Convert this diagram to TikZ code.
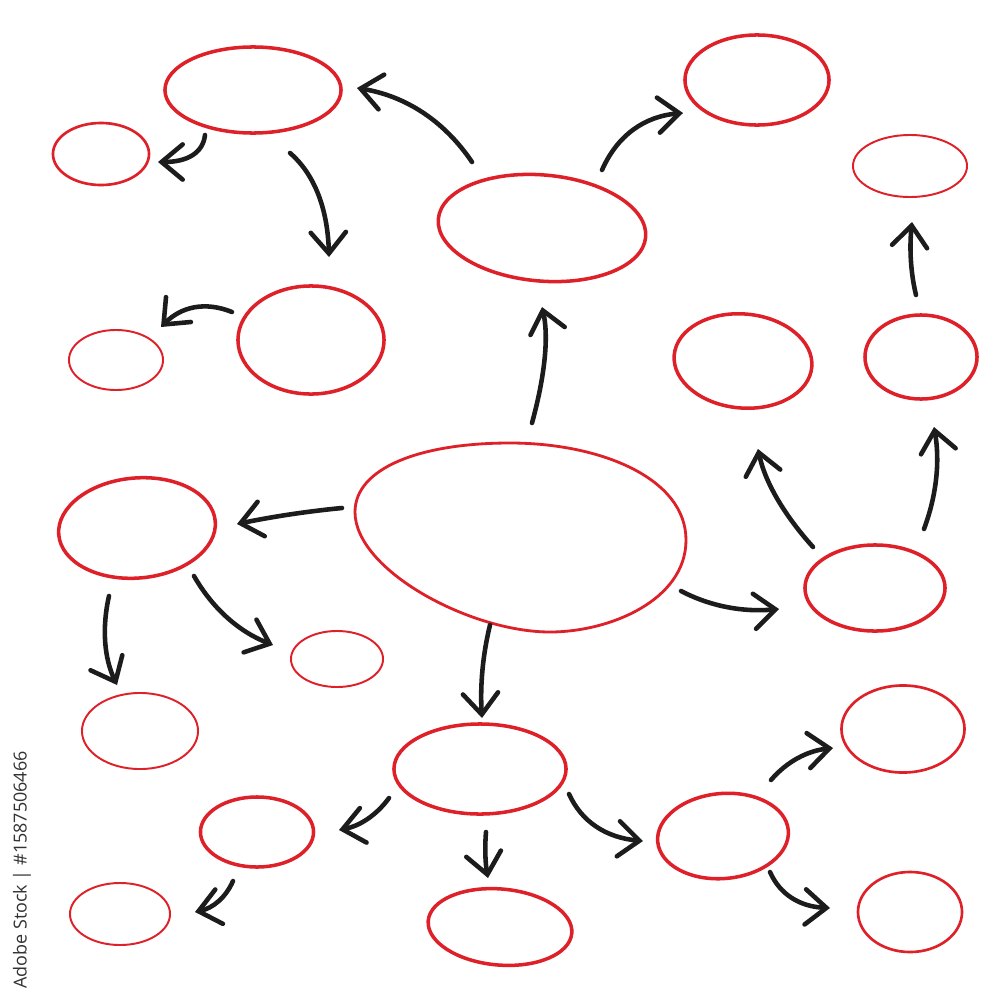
\documentclass[tikz,border=0pt]{standalone}
\usepackage{fontspec}
\newfontfamily\wmfont{Open Sans}
\usetikzlibrary{arrows.meta,shapes.geometric,calc}
\definecolor{penred}{RGB}{222,32,40}
\definecolor{penblack}{RGB}{28,28,28}
\definecolor{wmgray}{RGB}{50,50,50}
\tikzset{
  bub/.style={ellipse, draw=penred, inner sep=0pt, line width=1.0pt},
  bubthin/.style={bub, line width=0.55pt},
  bubmid/.style={bub, line width=0.75pt},
  arr/.style={draw=penblack, line width=1.3pt, line cap=round,
    -{Straight Barb[length=6pt,width=10pt,line cap=round]}},
}
% quadratic-looking arrow: start, control, tip
\newcommand{\qarrow}[3]{\draw[arr] (#1) .. controls ($(#1)!0.6667!(#2)$) and ($(#3)!0.6667!(#2)$) .. (#3);}
\begin{document}
\begin{tikzpicture}[x=0.01cm,y=-0.01cm]
\useasboundingbox[fill=white] (0,0) rectangle (1000,1000);

% bubbles
\node[bub, minimum width=1.76cm, minimum height=0.86cm] (e1) at (253,90) {};
\node[bubmid, minimum width=0.96cm, minimum height=0.62cm] (e2) at (101,154) {};
\node[bub, minimum width=2.08cm, minimum height=1.06cm, rotate=-5] (e3) at (542,228) {};
\node[bub, minimum width=1.44cm, minimum height=0.90cm] (e4) at (757,80) {};
\node[bubthin, minimum width=1.14cm, minimum height=0.62cm] (e5) at (910,166) {};
\node[bub, minimum width=1.46cm, minimum height=1.08cm] (e6) at (311,340) {};
\node[bubthin, minimum width=0.94cm, minimum height=0.60cm] (e7) at (116,360) {};
\node[bub, minimum width=1.38cm, minimum height=0.94cm, rotate=-5] (e8) at (743,361) {};
\node[bub, minimum width=1.12cm, minimum height=0.84cm] (e9) at (921,357) {};
% centre egg
\coordinate (e10) at (521,537);
\draw[penred, line width=0.8pt] (355,512) .. controls (355,468) and (420,443) .. (510,443)
  .. controls (600,443) and (686,478) .. (686,540)
  .. controls (686,600) and (610,632) .. (550,632)
  .. controls (470,632) and (355,570) .. (355,512) -- cycle;
\node[bub, minimum width=1.57cm, minimum height=1.00cm, rotate=5] (e11) at (137,528) {};
\node[bub, minimum width=1.40cm, minimum height=0.86cm] (e12) at (875,588) {};
\node[bubthin, minimum width=0.92cm, minimum height=0.56cm] (e13) at (337,659) {};
\node[bubthin, minimum width=1.16cm, minimum height=0.76cm] (e14) at (140,731) {};
\node[bub, minimum width=1.72cm, minimum height=0.90cm] (e15) at (480,769) {};
\node[bubmid, minimum width=1.23cm, minimum height=0.87cm] (e16) at (903,729) {};
\node[bub, minimum width=1.13cm, minimum height=0.70cm] (e17) at (257,832) {};
\node[bub, minimum width=1.31cm, minimum height=0.85cm, rotate=5] (e18) at (723,836) {};
\node[bubthin, minimum width=1.00cm, minimum height=0.62cm] (e19) at (120,914) {};
\node[bub, minimum width=1.44cm, minimum height=0.76cm, rotate=-5] (e20) at (500,927) {};
\node[bubmid, minimum width=1.04cm, minimum height=0.80cm] (e21) at (910,912) {};

% arrow end points
\coordinate (as) at (532,423); \coordinate (at) at (542,307);
\coordinate (bs) at (472,162); \coordinate (bt) at (357,88);
\coordinate (cs) at (602,170); \coordinate (ct) at (683,113);
\coordinate (ds) at (205,135); \coordinate (dt) at (158,162);
\coordinate (es) at (290,153); \coordinate (et) at (329,257);
\coordinate (fs) at (232,312); \coordinate (ft) at (161,327);
\coordinate (gs) at (342,508); \coordinate (gt) at (237,524);
\coordinate (hs) at (194,576); \coordinate (ht) at (273,645);
\coordinate (is) at (109,596); \coordinate (it) at (117,685);
\coordinate (js) at (490,625); \coordinate (jt) at (482,718);
\coordinate (ks) at (681,591); \coordinate (kt) at (779,609);
\coordinate (ls) at (813,547); \coordinate (lt) at (758,449);
\coordinate (ms) at (924,529); \coordinate (mt) at (934,427);
\coordinate (ns) at (916,295); \coordinate (nt) at (912,222);
\coordinate (os) at (389,798); \coordinate (ot) at (339,830);
\coordinate (ps) at (569,794); \coordinate (pt) at (643,841);
\coordinate (qs) at (486,832); \coordinate (qt) at (488,878);
\coordinate (rs) at (233,881); \coordinate (rt) at (195,912);
\coordinate (ss) at (771,780); \coordinate (st) at (833,748);
\coordinate (ts) at (770,872); \coordinate (tt) at (830,908);

\qarrow{as}{552,350}{at}
\qarrow{bs}{430,100}{bt}
\qarrow{cs}{625,118}{ct}
\qarrow{ds}{202,162}{dt}
\qarrow{es}{327,185}{et}
\qarrow{fs}{192,296}{ft}
\qarrow{gs}{290,513}{gt}
\qarrow{hs}{222,625}{ht}
\qarrow{is}{98,645}{it}
\qarrow{js}{479,670}{jt}
\qarrow{ks}{725,614}{kt}
\qarrow{ls}{768,497}{lt}
\qarrow{ms}{943,478}{mt}
\qarrow{ns}{908,262}{nt}
\qarrow{os}{370,824}{ot}
\qarrow{ps}{588,836}{pt}
\qarrow{qs}{484,856}{qt}
\qarrow{rs}{222,906}{rt}
\qarrow{ss}{795,752}{st}
\qarrow{ts}{785,906}{tt}

% stock label
\node[rotate=90, text=wmgray, font=\wmfont\fontsize{5.1pt}{6pt}\selectfont, inner sep=0pt] (wm) at (22,870) {Adobe Stock | \#1587506466};
\end{tikzpicture}
\end{document}
